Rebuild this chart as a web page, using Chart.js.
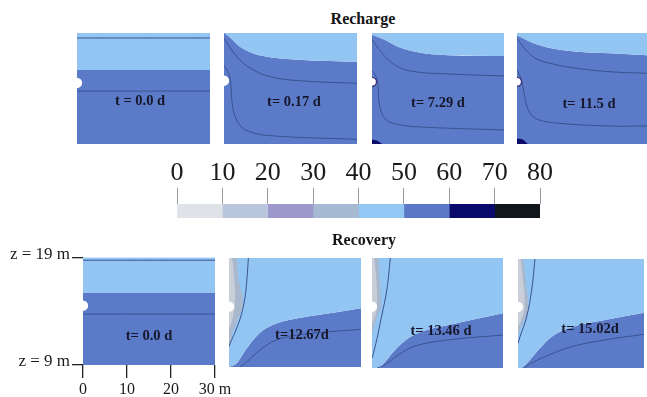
<!DOCTYPE html>
<html><head><meta charset="utf-8">
<script src="https://cdn.jsdelivr.net/npm/chart.js@4.4.0/dist/chart.umd.min.js"></script>
<style>
html,body{margin:0;padding:0;background:#fff;}
body{width:647px;height:397px;overflow:hidden;position:relative;font-family:'Liberation Serif','Times New Roman',serif;}
canvas{position:absolute;}
.lbl{position:absolute;transform:translate(-50%,-50%);font-weight:bold;white-space:nowrap;color:#17172c;font-size:14.5px;line-height:1;}
.ttl{position:absolute;transform:translate(-50%,-50%);font-weight:bold;white-space:nowrap;color:#151515;font-size:16px;line-height:1;}
</style></head><body>
<script>
// ---------------- DATA ----------------
const rowTitles = ['Recharge', 'Recovery'];
const rechargeTimes = ['t = 0.0 d', 't= 0.17 d', 't= 7.29 d', 't= 11.5 d'];
const recoveryTimes = ['t= 0.0 d', 't=12.67d', 't= 13.46 d', 't= 15.02d'];
const legendTicks = [0, 10, 20, 30, 40, 50, 60, 70, 80];
const legendColors = ['#dfe2e7', '#bac5de', '#9c98cb', '#a5b9d3', '#93c7f4', '#5a78c6', '#0a0a6c', '#11171d'];
const xTickValues = [0, 10, 20, 30];
const xTickLabels = ['0', '10', '20', '30 m'];
const zTickValues = [9, 19];
const zTickLabels = ['z = 9 m', 'z = 19 m'];

// Recharge t=0.0 d
const r0Front = [[0, 15.67], [30, 15.67]];
const r0Contour1 = [[0, 18.55], [30, 18.55]];
const r0Contour2 = [[0, 13.77], [30, 13.77]];
const r0Well = 14.5;
// Recharge t=0.17 d
const r1Front = [[0, 19], [0.2, 18.97], [3.6, 17.77], [6.5, 17.17], [10.4, 16.81], [17.8, 16.57], [30, 16.41]];
const r1Contour1 = [[0, 18.5], [2.9, 16.86], [5.9, 15.85], [10.4, 15.06], [17.8, 14.68], [30, 14.47]];
const r1Contour2 = [[0, 16.1], [1.2, 15.2], [1.6, 14.0], [1.8, 12.8], [2.4, 11.6], [3.6, 10.7], [5.5, 10.15], [10.4, 9.75], [30, 9.42]];
const r1Well = 14.7;
// Recharge t=7.29 d
const r2Front = [[0, 18.85], [3.0, 18.37], [5.9, 17.77], [9.8, 17.32], [17.3, 17.0], [30, 16.93]];
const r2Contour1 = [[0, 18.4], [3.0, 16.86], [5.9, 15.96], [9.8, 15.51], [17.3, 15.31], [30, 15.13]];
const r2Contour2 = [[0, 15.6], [1.0, 15.0], [1.4, 14.0], [1.6, 12.8], [2.3, 11.7], [3.5, 11.1], [5.5, 10.8], [9.8, 10.56], [30, 10.26]];
const r2Navy = [[0, 9.4], [1.2, 9.3], [2.3, 9]];
const r2Well = 14.6;
// Recharge t=11.5 d
const r3Front = [[0, 18.8], [3.7, 18.1], [7.6, 17.65], [13.8, 17.32], [21.5, 17.17], [30, 17.0]];
const r3Contour1 = [[0, 18.45], [3.7, 16.86], [7.6, 16.27], [13.8, 15.82], [21.5, 15.51], [30, 15.37]];
const r3Contour2 = [[0, 15.7], [1.0, 14.8], [1.6, 13.6], [2.2, 12.5], [3.2, 11.7], [4.8, 11.2], [9.9, 10.86], [21.5, 10.62], [30, 10.62]];
const r3Navy = [[0, 9.5], [1.3, 9.4], [2.5, 9]];
const r3Well = 14.6;

// Recovery t=0.0 d
const v0Front = [[0, 15.67], [30, 15.67]];
const v0Contour1 = [[0, 18.72], [30, 18.72]];
const v0Contour2 = [[0, 13.72], [30, 13.72]];
const v0Well = 14.5;
// Recovery t=12.67 d
const v1Front = [[0, 9], [0.2, 9.03], [1.75, 9.34], [3.25, 10.25], [5.5, 11.48], [7.8, 12.39], [10.8, 13.0], [16.9, 13.56], [23.7, 13.98], [30, 14.39]];
const v1Contour1 = [[2.5, 9], [3.25, 9.18], [7.05, 10.56], [10.8, 11.48], [16.9, 12.0], [30, 12.46]];
const v1Contour2 = [[4.4, 19], [4.1, 17.2], [3.6, 15.3], [2.8, 13.8], [1.6, 12.4], [0.5, 11.4], [0, 10.9]];
const v1GrayX = [0, 0.4, 0.85, 1.75, 2.2, 2.8, 3.2];
const v1GrayTop = [19, 19, 19, 19, 17.0, 16.0, 15.0];
const v1GrayBottom = [11.0, 11.3, 12.2, 13.1, 13.6, 14.1, 14.9];
const v1PaleX = [0, 0.5, 0.9, 1.4];
const v1PaleTop = [19, 19, 18.5, 16.0];
const v1PaleBottom = [12.6, 13.0, 13.6, 14.6];
const v1Well = 14.53;
// Recovery t=13.46 d
const v2Front = [[0, 9], [1.45, 9.0], [3.0, 9.57], [5.27, 10.64], [8.3, 11.7], [11.4, 12.3], [17.5, 12.9], [30, 13.97]];
const v2Contour1 = [[1.2, 9], [3.0, 9.3], [6.0, 10.18], [9.85, 11.0], [17.5, 11.55], [30, 12.0]];
const v2Contour2 = [[4.2, 19], [3.4, 16.1], [2.2, 13.7], [1.1, 11.6], [0.3, 10.3], [0, 9.9]];
const v2GrayX = [0, 0.5, 1.0, 1.4, 1.8, 2.1];
const v2GrayTop = [19, 19, 19, 19, 17.0, 15.2];
const v2GrayBottom = [12.0, 12.8, 13.5, 13.9, 14.2, 14.8];
const v2PaleX = [0, 0.5, 0.9, 1.2];
const v2PaleTop = [19, 19, 17.5, 15.8];
const v2PaleBottom = [13.0, 13.5, 14.0, 14.6];
const v2Well = 14.57;
// Recovery t=15.02 d
const v3Front = [[0, 9], [0.48, 9.0], [2.45, 9.58], [4.83, 10.65], [8.02, 11.87], [12.8, 12.73], [20.7, 13.4], [30, 14.07]];
const v3Contour1 = [[1.5, 9], [3, 9.4], [6.43, 10.04], [12.8, 10.96], [20.7, 11.57], [30, 12.09]];
const v3Contour2 = [[4.05, 19], [3.25, 16.15], [2.06, 13.7], [0.48, 11.87], [0, 11.27]];
const v3GrayX = [0, 0.5, 1.2, 1.8, 2.4];
const v3GrayTop = [19, 19, 19, 17.0, 15.2];
const v3GrayBottom = [11.9, 12.5, 13.2, 13.6, 14.3];
const v3PaleX = [0, 0.6, 1.2, 1.6];
const v3PaleTop = [19, 19, 17, 15.8];
const v3PaleBottom = [12.8, 13.2, 13.8, 14.4];
const v3Well = 14.6;

// ---------------- STYLE / LAYOUT ----------------
const LIGHT = '#93c5f2', DARK = '#5b7bc8', NAVY = '#0d0d6e', GRAY = '#a9b8cc', PALE = '#c9ced8', LINE = '#3a5290';
const FONT = "'Liberation Serif','Times New Roman',serif";

const panels = [
  {box: [77, 33, 133, 111], front: r0Front, contours: [r0Contour1, r0Contour2], well: r0Well, label: rechargeTimes[0], lpos: [140, 100]},
  {box: [224, 33, 133, 111], front: r1Front, contours: [r1Contour1, r1Contour2], well: r1Well, label: rechargeTimes[1], lpos: [294, 101]},
  {box: [372, 33, 132, 111], front: r2Front, contours: [r2Contour1, r2Contour2], navy: r2Navy, well: r2Well, rim: '#3b2f78', label: rechargeTimes[2], lpos: [438, 102]},
  {box: [517, 33, 130, 111], front: r3Front, contours: [r3Contour1, r3Contour2], navy: r3Navy, well: r3Well, rim: '#3b2f78', label: rechargeTimes[3], lpos: [589, 103]},
  {box: [83, 257, 132, 108], front: v0Front, contours: [v0Contour1, v0Contour2], well: v0Well, label: recoveryTimes[0], lpos: [149, 335], axes: true},
  {box: [229, 258, 132, 109], front: v1Front, contours: [v1Contour1, v1Contour2], gray: [v1GrayX, v1GrayTop, v1GrayBottom], pale: [v1PaleX, v1PaleTop, v1PaleBottom], well: v1Well, label: recoveryTimes[1], lpos: [302, 334]},
  {box: [372, 258, 131, 110], front: v2Front, contours: [v2Contour1, v2Contour2], gray: [v2GrayX, v2GrayTop, v2GrayBottom], pale: [v2PaleX, v2PaleTop, v2PaleBottom], well: v2Well, label: recoveryTimes[2], lpos: [441, 330]},
  {box: [518, 259, 126, 109], front: v3Front, contours: [v3Contour1, v3Contour2], gray: [v3GrayX, v3GrayTop, v3GrayBottom], pale: [v3PaleX, v3PaleTop, v3PaleBottom], well: v3Well, label: recoveryTimes[3], lpos: [590, 328]}
];

function pt(a) { return a.map(p => ({x: p[0], y: p[1]})); }
function zip(xs, ys) { return xs.map((x, i) => ({x: x, y: ys[i]})); }

function makeCanvas(left, top, w, h) {
  const c = document.createElement('canvas');
  c.width = w; c.height = h;
  c.style.left = left + 'px'; c.style.top = top + 'px';
  c.style.width = w + 'px'; c.style.height = h + 'px';
  document.body.appendChild(c);
  return c;
}
function addText(cls, text, x, y) {
  const d = document.createElement('div');
  d.className = cls; d.textContent = text;
  d.style.left = x + 'px'; d.style.top = y + 'px';
  document.body.appendChild(d);
}

function buildPanel(p) {
  const ds = [];
  const add = o => { ds.push(Object.assign({borderWidth: 0, borderColor: 'transparent', pointRadius: 0, fill: false, tension: 0.4}, o)); return ds.length - 1; };
  add({data: pt(p.front), fill: 'end', backgroundColor: LIGHT, order: 20, cubicInterpolationMode: 'monotone'});
  add({data: pt(p.front), fill: 'start', backgroundColor: DARK, order: 20, cubicInterpolationMode: 'monotone'});
  if (p.navy) add({data: pt(p.navy), fill: 'start', backgroundColor: NAVY, order: 15, cubicInterpolationMode: 'monotone'});
  if (p.gray) {
    const lo = ds.length + 1;
    add({data: zip(p.gray[0], p.gray[1]), fill: lo, backgroundColor: GRAY, order: 12, cubicInterpolationMode: 'monotone'});
    add({data: zip(p.gray[0], p.gray[2]), order: 12, cubicInterpolationMode: 'monotone'});
  }
  if (p.pale) {
    const lo = ds.length + 1;
    add({data: zip(p.pale[0], p.pale[1]), fill: lo, backgroundColor: PALE, order: 11, cubicInterpolationMode: 'monotone'});
    add({data: zip(p.pale[0], p.pale[2]), order: 11, cubicInterpolationMode: 'monotone'});
  }
  p.contours.forEach(c => add({data: pt(c), borderColor: LINE, borderWidth: 1, tension: 0.4, order: 5}));
  add({data: [{x: 0, y: p.well}], pointRadius: 4.5, pointBackgroundColor: '#ffffff', pointBorderColor: p.rim || '#ffffff', pointBorderWidth: 1.3, showLine: false, order: 1});

  const [L, T, W, H] = p.box;
  let canvas, layout, xScale, yScale;
  if (p.axes) {
    const cl = 0, ct = T - 12, cw = L + W + 25, ch = 397 - ct;
    canvas = makeCanvas(cl, ct, cw, ch);
    layout = {autoPadding: false, padding: {top: 12, right: 25, left: 0, bottom: 0}};
    xScale = {type: 'linear', min: 0, max: 30, position: 'bottom',
      afterBuildTicks: s => { s.ticks = xTickValues.map(v => ({value: v})); },
      afterFit: s => { s.height = 397 - (T + H); },
      ticks: {callback: (v) => xTickLabels[xTickValues.indexOf(v)], font: {family: FONT, size: 16}, color: '#1a1a1a', padding: 2, maxRotation: 0, autoSkip: false},
      grid: {drawOnChartArea: false, drawTicks: true, tickLength: 13, color: '#222', lineWidth: 1.3},
      border: {display: false}};
    yScale = {type: 'linear', min: 9, max: 19, position: 'left',
      afterBuildTicks: s => { s.ticks = zTickValues.map(v => ({value: v})); },
      afterFit: s => { s.width = L; },
      ticks: {callback: (v) => zTickLabels[zTickValues.indexOf(v)], font: {family: FONT, size: 17}, color: '#1a1a1a', padding: 2, labelOffset: -3, autoSkip: false},
      grid: {drawOnChartArea: false, drawTicks: true, tickLength: 11, color: '#222', lineWidth: 1.3},
      border: {display: false}};
  } else {
    canvas = makeCanvas(L, T, W, H);
    layout = {autoPadding: false, padding: 0};
    xScale = {type: 'linear', min: 0, max: 30, display: false};
    yScale = {type: 'linear', min: 9, max: 19, display: false};
  }
  new Chart(canvas.getContext('2d'), {
    type: 'line',
    data: {datasets: ds},
    options: {
      responsive: false, animation: false, events: [], layout: layout,
      plugins: {legend: {display: false}, tooltip: {enabled: false}},
      elements: {point: {radius: 0}},
      scales: {x: xScale, y: yScale}
    }
  });
  addText('lbl', p.label, p.lpos[0], p.lpos[1]);
}

panels.forEach(buildPanel);

// colour bar
(function () {
  const canvas = makeCanvas(157, 150, 403, 70);
  new Chart(canvas.getContext('2d'), {
    type: 'bar',
    data: {labels: [''], datasets: legendColors.map((c, i) => ({
      data: [[legendTicks[i], legendTicks[i + 1]]], backgroundColor: c, borderWidth: 0,
      barPercentage: 1, categoryPercentage: 1}))},
    options: {
      indexAxis: 'y', responsive: false, animation: false, events: [],
      layout: {autoPadding: false, padding: {left: 20, right: 20, top: 0, bottom: 2}},
      plugins: {legend: {display: false}, tooltip: {enabled: false}},
      scales: {
        x: {type: 'linear', position: 'top', min: 0, max: 80,
          afterBuildTicks: s => { s.ticks = legendTicks.map(v => ({value: v})); },
          afterFit: s => { s.height = 54; },
          ticks: {font: {family: FONT, size: 26, lineHeight: 1}, color: '#1a1a1a', padding: 2, maxRotation: 0, autoSkip: false},
          grid: {drawOnChartArea: false, drawTicks: true, tickLength: 16, color: '#9a9a9a', lineWidth: 1},
          border: {display: false}},
        y: {stacked: true, display: false}
      }
    }
  });
})();

addText('ttl', rowTitles[0], 363, 19);
addText('ttl', rowTitles[1], 364, 240);
</script>
</body></html>
